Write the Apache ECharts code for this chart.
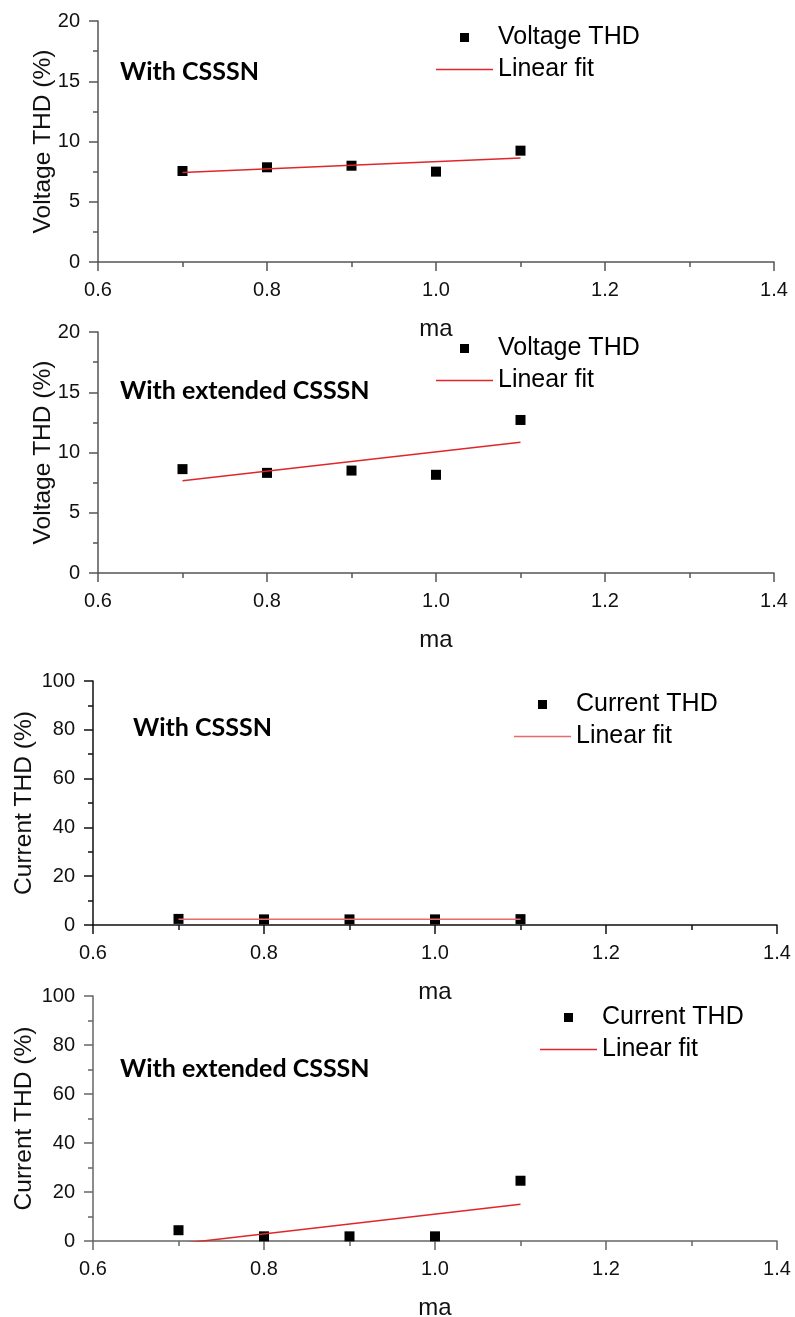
<!DOCTYPE html>
<html>
<head>
<meta charset="utf-8">
<script src="https://cdn.jsdelivr.net/npm/echarts@6/dist/echarts.min.js"></script>
<style>
  html, body { margin: 0; padding: 0; background: #fff; }
  #chart { width: 795px; height: 1317px; }
</style>
</head>
<body>
<div id="chart"></div>
<script>
// Modulation index values shared by all four panels
const ma = [0.7, 0.8, 0.9, 1.0, 1.1];
const xTicks = [0.6, 0.8, 1.0, 1.2, 1.4];

// THD measurements (%)
const voltageThdCsssn = [7.55, 7.86, 7.99, 7.50, 9.24];
const voltageThdExtended = [8.62, 8.31, 8.50, 8.15, 12.7];
const currentThdCsssn = [2.5, 2.3, 2.3, 2.3, 2.4];
const currentThdExtended = [4.4, 1.9, 1.9, 1.9, 24.6];

// Linear-fit end points over the fitted ma range
const fitRange = [0.7, 1.1];
const voltageFitCsssn = [7.42, 8.63];
const voltageFitExtended = [7.66, 10.86];
const currentFitCsssn = [2.35, 2.35];
const currentFitExtended = [-1.14, 15.0];

const panels = [
  { title: 'With CSSSN', yName: 'Voltage THD (%)', pointName: 'Voltage THD',
    points: voltageThdCsssn, fit: voltageFitCsssn, yMax: 20, yStep: 5,
    grid: { left: 98, top: 21, width: 676, height: 241 }, axisColor: '#555',
    titlePos: { left: 120, top: 59 }, legendPos: { left: 436, top: 25 }, fitColor: '#e0262a', yGap: 42 },
  { title: 'With extended CSSSN', yName: 'Voltage THD (%)', pointName: 'Voltage THD',
    points: voltageThdExtended, fit: voltageFitExtended, yMax: 20, yStep: 5,
    grid: { left: 98, top: 332, width: 676, height: 241 }, axisColor: '#555',
    titlePos: { left: 120, top: 378 }, legendPos: { left: 436, top: 336 }, fitColor: '#e0262a', yGap: 42 },
  { title: 'With CSSSN', yName: 'Current THD (%)', pointName: 'Current THD',
    points: currentThdCsssn, fit: currentFitCsssn, yMax: 100, yStep: 20,
    grid: { left: 93, top: 681, width: 684, height: 244 }, axisColor: '#111',
    titlePos: { left: 133, top: 715 }, legendPos: { left: 514, top: 692 }, fitColor: '#e86a6a', yGap: 56 },
  { title: 'With extended CSSSN', yName: 'Current THD (%)', pointName: 'Current THD',
    points: currentThdExtended, fit: currentFitExtended, yMax: 100, yStep: 20,
    grid: { left: 93, top: 996, width: 684, height: 245 }, axisColor: '#666',
    titlePos: { left: 120, top: 1056 }, legendPos: { left: 540, top: 1005 }, fitColor: '#e0262a', yGap: 56 }
];

const tickFont = { fontFamily: 'Liberation Sans, Arial, sans-serif', fontSize: 20, color: '#111' };
const squareIcon = 'path://M0,0H10V10H0Z';
const lineIcon = 'path://M0,0H57V1.5H0Z';

const option = {
  backgroundColor: '#fff',
  animation: false,
  title: [], grid: [], xAxis: [], yAxis: [], legend: [], series: []
};

panels.forEach((p, i) => {
  option.grid.push(Object.assign({ containLabel: false, outerBoundsMode: 'none' }, p.grid));
  option.title.push({
    text: p.title, left: p.titlePos.left, top: p.titlePos.top, padding: 0,
    textStyle: { fontFamily: 'Lato, Open Sans, sans-serif', fontWeight: 'bold', fontSize: 25, color: '#000' }
  });
  option.xAxis.push({
    type: 'value', gridIndex: i, min: xTicks[0], max: xTicks[xTicks.length - 1], interval: 0.2,
    name: 'ma', nameLocation: 'middle', nameGap: 55, nameMoveOverlap: false,
    nameTextStyle: { fontFamily: 'Liberation Sans, Arial, sans-serif', fontSize: 24, color: '#111' },
    axisLine: { onZero: false, lineStyle: { color: p.axisColor, width: 1.5 } },
    axisTick: { show: true, inside: false, length: 9, lineStyle: { color: p.axisColor, width: 1.5 } },
    minorTick: { show: true, splitNumber: 2, length: 5, lineStyle: { color: p.axisColor, width: 1.5 } },
    splitLine: { show: false },
    axisLabel: Object.assign({ margin: 18, formatter: v => v.toFixed(1) }, tickFont)
  });
  option.yAxis.push({
    type: 'value', gridIndex: i, min: 0, max: p.yMax, interval: p.yStep,
    name: p.yName, nameLocation: 'middle', nameGap: p.yGap, nameMoveOverlap: false,
    nameTextStyle: { fontFamily: 'Liberation Sans, Arial, sans-serif', fontSize: 24.5, color: '#111' },
    axisLine: { show: true, onZero: false, lineStyle: { color: p.axisColor, width: 1.5 } },
    axisTick: { show: true, inside: false, length: 9, lineStyle: { color: p.axisColor, width: 1.5 } },
    minorTick: { show: true, splitNumber: 2, length: 5, lineStyle: { color: p.axisColor, width: 1.5 } },
    splitLine: { show: false },
    axisLabel: Object.assign({ margin: 18 }, tickFont)
  });
  option.series.push({
    name: p.pointName, type: 'scatter', xAxisIndex: i, yAxisIndex: i,
    symbol: 'rect', symbolSize: 10, itemStyle: { color: '#000', opacity: 1 }, z: 3,
    data: ma.map((x, k) => [x, p.points[k]])
  });
  option.series.push({
    name: 'Linear fit', type: 'line', xAxisIndex: i, yAxisIndex: i,
    showSymbol: false, symbol: 'none', clip: true, z: 4,
    lineStyle: { color: p.fitColor, width: 1.5 }, itemStyle: { color: p.fitColor },
    data: fitRange.map((x, k) => [x, p.fit[k]])
  });
  option.legend.push({
    orient: 'vertical', left: p.legendPos.left, top: p.legendPos.top, padding: 0,
    itemWidth: 57, itemHeight: 9, itemGap: 7, symbolKeepAspect: true,
    textStyle: { fontFamily: 'Liberation Sans, Arial, sans-serif', fontSize: 25, color: '#000', lineHeight: 24 },
    selectedMode: false,
    data: [
      { name: p.pointName, icon: squareIcon, itemStyle: { color: '#000', opacity: 1 } },
      { name: 'Linear fit', icon: lineIcon, itemStyle: { color: p.fitColor, borderWidth: 0 } }
    ]
  });
});

const chart = echarts.init(document.getElementById('chart'), null, { renderer: 'canvas' });
chart.setOption(option);
</script>
</body>
</html>
